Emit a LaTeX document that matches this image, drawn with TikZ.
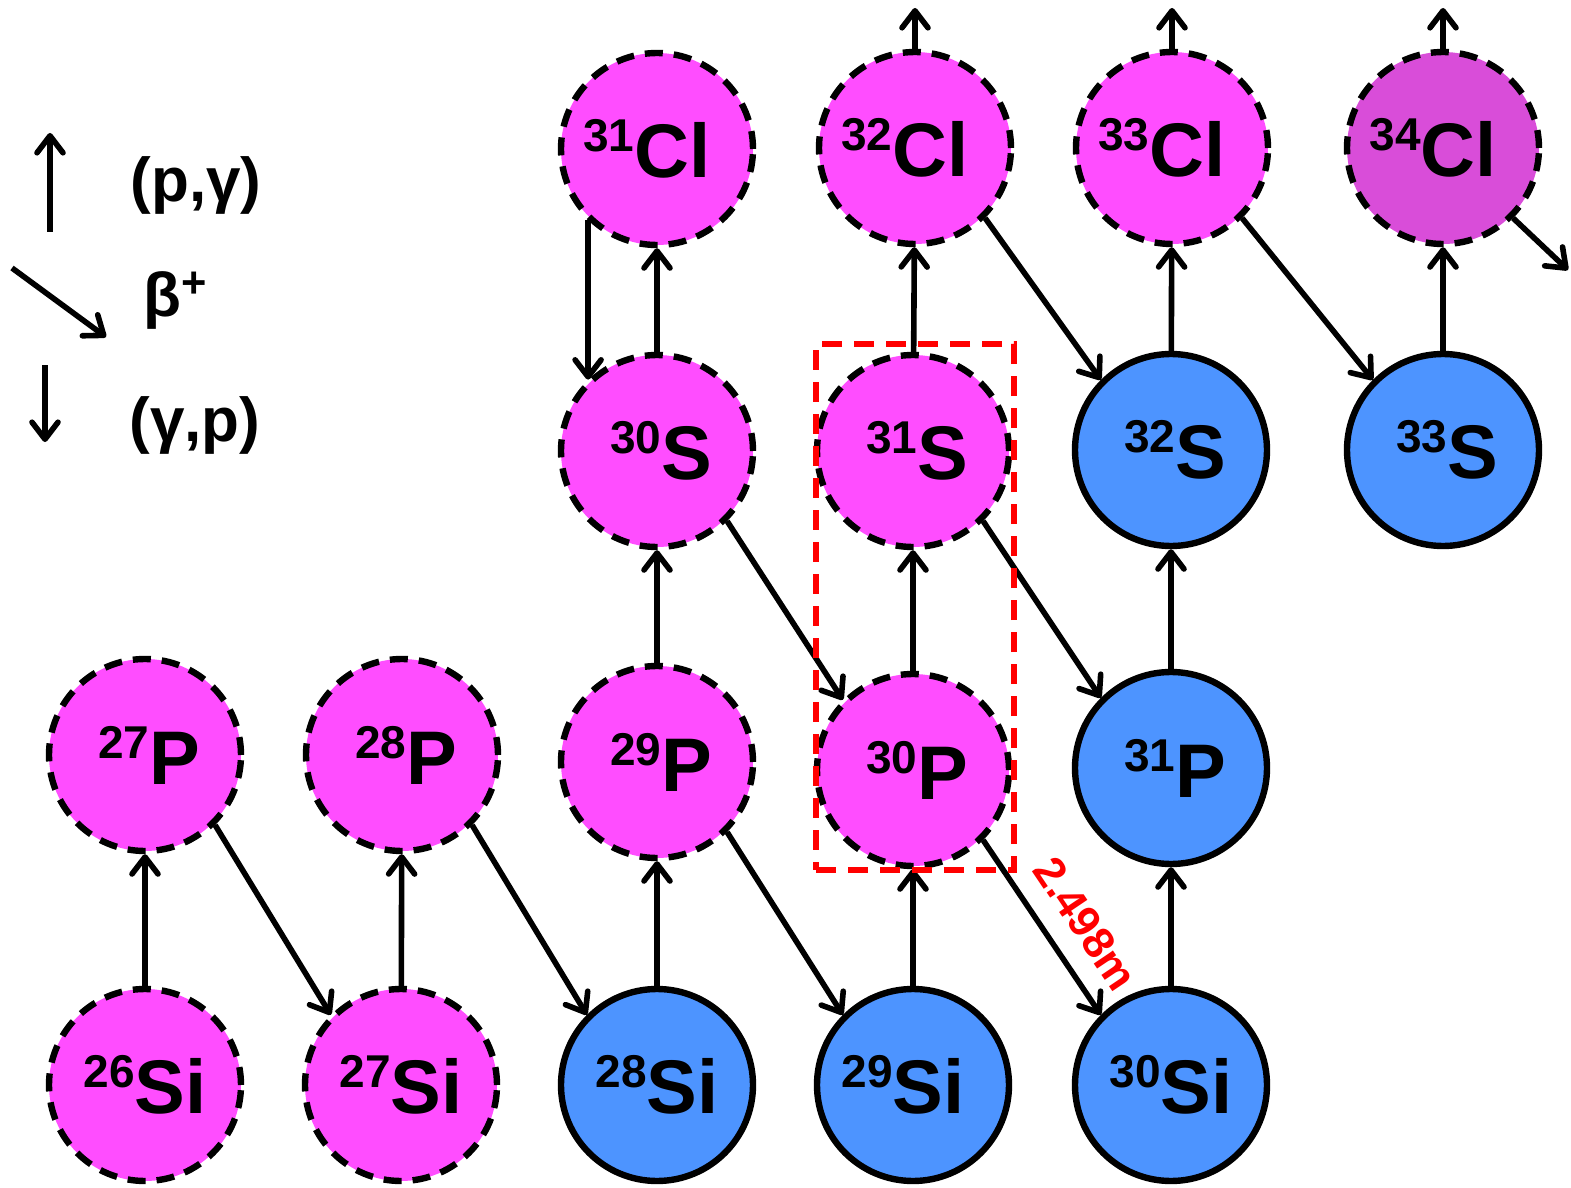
\documentclass[tikz,border=0pt]{standalone}
\usepackage{fontspec}
\setmainfont{Liberation Sans}
\usetikzlibrary{arrows.meta}

\definecolor{shortcol}{RGB}{255,77,255}
\definecolor{shortdark}{RGB}{217,77,217}
\definecolor{stablecol}{RGB}{77,148,255}

% isotope label: optional horizontal correction, mass number, element symbol
\newcommand\nucl[3][0pt]{\hspace*{#1}\raisebox{13pt}{\fontsize{23}{23}\selectfont #2}{\fontsize{38}{38}\selectfont #3}}

\begin{document}
\begin{tikzpicture}[x=0.5pt,y=-0.5pt,
  nucleus/.style={circle, minimum size=96pt, inner sep=0pt, line width=3.2pt,
    draw=black, font=\bfseries},
  shortlived/.style={nucleus, fill=shortcol, dash pattern=on 9pt off 5.5pt},
  shortlivedb/.style={shortlived, fill=shortdark},
  stableiso/.style={nucleus, fill=stablecol},
  flow/.style={line width=2.8pt, -{Straight Barb[length=8.5pt,width=13pt,round]}},
  legendtext/.style={font=\bfseries\fontsize{31}{31}\selectfont, inner sep=0pt},
  halflife/.style={text=red, font=\bfseries\fontsize{22}{22}\selectfont, inner sep=0pt}
]
\useasboundingbox (0,0) rectangle (1571,1188);

% silicon row
\node[shortlived] (Si26) at (145,1085) {\nucl{26}{Si}};
\node[shortlived] (Si27) at (401,1085) {\nucl{27}{Si}};
\node[stableiso]  (Si28) at (657,1085) {\nucl{28}{Si}};
\node[stableiso]  (Si29) at (913,1085) {\nucl[-10pt]{29}{Si}};
\node[stableiso]  (Si30) at (1171,1085) {\nucl{30}{Si}};

% phosphorus row
\node[shortlived] (P27) at (145,755) {\nucl[4pt]{27}{P}};
\node[shortlived] (P28) at (402,755) {\nucl[4pt]{28}{P}};
\node[shortlived] (P29) at (657,762) {\nucl[4pt]{29}{P}};
\node[shortlived] (P30) at (913,770) {\nucl[4pt]{30}{P}};
\node[stableiso]  (P31) at (1171,768) {\nucl[4pt]{31}{P}};

% sulphur row
\node[shortlived] (S30) at (657,451) {\nucl[4pt]{30}{S}};
\node[shortlived] (S31) at (913,451) {\nucl[4pt]{31}{S}};
\node[stableiso]  (S32) at (1171,450) {\nucl[4pt]{32}{S}};
\node[stableiso]  (S33) at (1443,450) {\nucl[4pt]{33}{S}};

% chlorine row
\node[shortlived]  (Cl31) at (657,149) {\nucl[-10pt]{31}{Cl}};
\node[shortlived]  (Cl32) at (915,148) {\nucl[-10pt]{32}{Cl}};
\node[shortlived]  (Cl33) at (1172,148) {\nucl[-10pt]{33}{Cl}};
\node[shortlivedb] (Cl34) at (1443,148) {\nucl[-10pt]{34}{Cl}};

% free ends of the outgoing flows
\coordinate (Cl32up) at (915,8);
\coordinate (Cl33up) at (1172,8);
\coordinate (Cl34up) at (1443,8);
\coordinate (Cl34out) at (1568,270);

% proton captures
\draw[flow] (Si26) -- (P27);
\draw[flow] (Si27) -- (P28);
\draw[flow] (Si28) -- (P29);
\draw[flow] (Si29) -- (P30);
\draw[flow] (Si30) -- (P31);
\draw[flow] (P29) -- (S30);
\draw[flow] (P30) -- (S31);
\draw[flow] (P31) -- (S32);
\draw[flow] (S30) -- (Cl31);
\draw[flow] (S31) -- (Cl32);
\draw[flow] (S32) -- (Cl33);
\draw[flow] (S33) -- (Cl34);
\draw[flow] (Cl32) -- (Cl32up);
\draw[flow] (Cl33) -- (Cl33up);
\draw[flow] (Cl34) -- (Cl34up);

% beta decays
\draw[flow] (P27.-45) -- (Si27.135);
\draw[flow] (P28.-45) -- (Si28.135);
\draw[flow] (P29.-45) -- (Si29.135);
\draw[flow] (P30.-45) -- node[halflife, sloped, pos=0.6, above=10pt] (tP30) {2.498m} (Si30.135);
\draw[flow] (S30.-45) -- (P30.135);
\draw[flow] (S31.-45) -- (P31.135);
\draw[flow] (Cl32.-45) -- (S32.135);
\draw[flow] (Cl33.-45) -- (S33.135);
\draw[flow] (Cl34.-45) -- (Cl34out);

% photodisintegration
\draw[flow] (Cl31.-134) -- (S30.134);

% highlighted pair
\node[draw=red, line width=2.6pt, dash pattern=on 10pt off 6pt, minimum width=99pt,
  minimum height=263pt, inner sep=0pt] (window) at (915,607) {};

% legend
\coordinate (lgA1) at (50,232);  \coordinate (lgA2) at (50,133);
\coordinate (lgB1) at (12,268);  \coordinate (lgB2) at (106,337);
\coordinate (lgC1) at (45,365);  \coordinate (lgC2) at (45,442);
\draw[flow] (lgA1) -- (lgA2);
\draw[flow] (lgB1) -- (lgB2);
\draw[flow] (lgC1) -- (lgC2);
\node[legendtext] (lgpg) at (196,185) {(p,γ)};
\node[legendtext] (lgbeta) at (176,300) {β\textsuperscript{+}};
\node[legendtext] (lggp) at (195,425) {(γ,p)};
\end{tikzpicture}
\end{document}
